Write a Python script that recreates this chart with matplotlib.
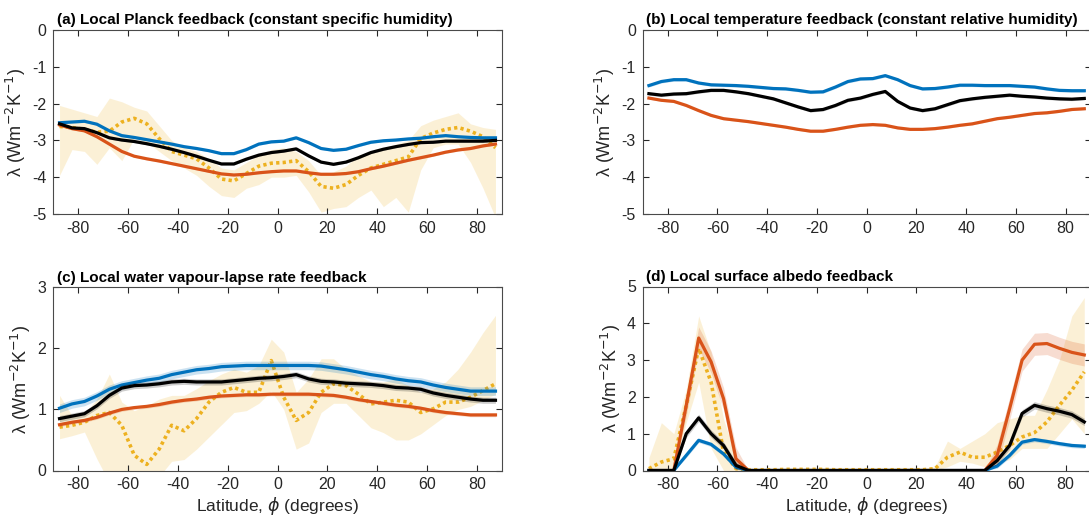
import numpy as np
import matplotlib
matplotlib.use("Agg")
import matplotlib.pyplot as plt

plt.rcParams['font.family'] = ['Liberation Sans', 'DejaVu Sans']
plt.rcParams['axes.unicode_minus'] = False

# ---------------- data ----------------
lat = [-87.5, -82.5, -77.5, -72.5, -67.5, -62.5, -57.5, -52.5, -47.5, -42.5,
       -37.5, -32.5, -27.5, -22.5, -17.5, -12.5, -7.5, -2.5, 2.5, 7.5,
       12.5, 17.5, 22.5, 27.5, 32.5, 37.5, 42.5, 47.5, 52.5, 57.5,
       62.5, 67.5, 72.5, 77.5, 82.5, 87.5]

# (a) Planck feedback
a_blue = [-2.52, -2.50, -2.48, -2.56, -2.74, -2.87, -2.92, -2.98, -3.04, -3.10,
          -3.17, -3.22, -3.28, -3.36, -3.36, -3.25, -3.10, -3.04, -3.02, -2.93,
          -3.06, -3.22, -3.27, -3.24, -3.14, -3.05, -3.01, -2.99, -2.96, -2.94,
          -2.90, -2.87, -2.90, -2.92, -2.93, -2.93]
a_black = [-2.55, -2.66, -2.68, -2.79, -2.93, -2.99, -3.03, -3.09, -3.16, -3.24,
           -3.33, -3.43, -3.54, -3.64, -3.64, -3.51, -3.40, -3.33, -3.29, -3.23,
           -3.42, -3.59, -3.65, -3.59, -3.47, -3.33, -3.24, -3.17, -3.11, -3.06,
           -3.05, -3.02, -3.02, -3.02, -3.02, -3.00]
a_red = [-2.58, -2.68, -2.74, -2.90, -3.10, -3.30, -3.43, -3.50, -3.56, -3.63,
         -3.70, -3.77, -3.84, -3.91, -3.94, -3.92, -3.88, -3.85, -3.83, -3.83,
         -3.88, -3.92, -3.92, -3.90, -3.85, -3.77, -3.70, -3.62, -3.54, -3.47,
         -3.40, -3.32, -3.26, -3.22, -3.15, -3.10]
a_obs = [-2.62, -2.65, -2.70, -2.78, -2.75, -2.50, -2.40, -2.55, -2.95, -3.30,
         -3.40, -3.50, -3.75, -4.05, -4.10, -3.90, -3.70, -3.62, -3.60, -3.55,
         -3.85, -4.25, -4.30, -4.20, -3.95, -3.75, -3.65, -3.55, -3.45, -2.95,
         -2.80, -2.70, -2.65, -2.75, -2.90, -3.20]
a_obs_hi = [-2.05, -2.15, -2.25, -2.35, -1.85, -1.95, -2.10, -2.20, -2.60, -3.00,
            -3.20, -3.30, -3.50, -3.75, -3.80, -3.60, -3.40, -3.25, -3.20, -3.30,
            -3.55, -3.95, -3.85, -3.70, -3.40, -3.30, -3.20, -3.10, -3.00, -2.60,
            -2.45, -2.35, -2.25, -2.55, -2.65, -2.70]
a_obs_lo = [-3.95, -3.25, -3.30, -3.65, -3.20, -3.55, -2.95, -3.05, -3.30, -3.55,
            -3.75, -3.95, -4.25, -4.50, -4.55, -4.30, -4.20, -4.00, -4.00, -3.95,
            -4.40, -4.95, -4.85, -4.80, -4.55, -4.35, -4.80, -4.55, -4.95, -3.80,
            -3.20, -3.10, -3.10, -3.60, -4.30, -5.10]

# (b) temperature feedback (constant RH)
b_blue = [-1.51, -1.40, -1.35, -1.35, -1.44, -1.49, -1.50, -1.51, -1.53, -1.56,
          -1.59, -1.60, -1.64, -1.69, -1.68, -1.55, -1.40, -1.33, -1.32, -1.24,
          -1.35, -1.51, -1.60, -1.59, -1.55, -1.50, -1.50, -1.51, -1.51, -1.51,
          -1.53, -1.55, -1.60, -1.64, -1.65, -1.65]
b_black = [-1.73, -1.77, -1.74, -1.73, -1.68, -1.64, -1.64, -1.68, -1.73, -1.80,
           -1.87, -1.98, -2.09, -2.19, -2.16, -2.05, -1.91, -1.85, -1.75, -1.67,
           -1.94, -2.12, -2.19, -2.14, -2.03, -1.92, -1.87, -1.83, -1.80, -1.77,
           -1.80, -1.82, -1.85, -1.87, -1.88, -1.86]
b_red = [-1.85, -1.91, -1.94, -2.05, -2.19, -2.32, -2.41, -2.45, -2.49, -2.54,
         -2.59, -2.64, -2.70, -2.75, -2.75, -2.70, -2.64, -2.59, -2.57, -2.59,
         -2.66, -2.70, -2.70, -2.68, -2.64, -2.59, -2.55, -2.48, -2.41, -2.37,
         -2.32, -2.27, -2.25, -2.21, -2.16, -2.14]

# (c) water vapour - lapse rate feedback
c_blue = [1.02, 1.09, 1.13, 1.22, 1.33, 1.40, 1.44, 1.48, 1.51, 1.57,
          1.61, 1.65, 1.67, 1.70, 1.71, 1.72, 1.72, 1.72, 1.72, 1.72,
          1.72, 1.71, 1.68, 1.65, 1.61, 1.57, 1.54, 1.50, 1.47, 1.45,
          1.40, 1.36, 1.33, 1.30, 1.30, 1.30]
c_black = [0.85, 0.89, 0.93, 1.06, 1.23, 1.35, 1.39, 1.40, 1.42, 1.45,
           1.46, 1.45, 1.45, 1.45, 1.47, 1.49, 1.51, 1.52, 1.54, 1.57,
           1.50, 1.46, 1.45, 1.43, 1.42, 1.41, 1.39, 1.36, 1.35, 1.33,
           1.27, 1.23, 1.20, 1.17, 1.15, 1.15]
c_red = [0.75, 0.79, 0.82, 0.87, 0.94, 1.00, 1.03, 1.05, 1.08, 1.12,
         1.15, 1.17, 1.20, 1.22, 1.23, 1.24, 1.24, 1.25, 1.25, 1.25,
         1.25, 1.24, 1.23, 1.20, 1.16, 1.13, 1.10, 1.07, 1.05, 1.02,
         0.98, 0.95, 0.93, 0.91, 0.91, 0.91]
c_obs = [0.71, 0.74, 0.79, 0.90, 0.95, 0.74, 0.25, 0.10, 0.35, 0.74,
         0.65, 0.85, 1.12, 1.28, 1.36, 1.28, 1.28, 1.80, 1.20, 0.82,
         0.95, 1.28, 1.42, 1.39, 1.25, 1.09, 1.12, 1.15, 1.12, 0.95,
         1.01, 1.12, 1.12, 1.20, 1.31, 1.42]
c_obs_hi = [1.23, 0.90, 0.93, 1.17, 1.58, 1.12, 0.98, 1.06, 1.17, 1.23,
            1.23, 1.34, 1.47, 1.58, 1.66, 1.61, 1.72, 2.15, 1.94, 1.28,
            1.50, 1.83, 1.83, 1.66, 1.55, 1.45, 1.45, 1.50, 1.39, 1.28,
            1.34, 1.45, 1.66, 1.94, 2.26, 2.54]
c_obs_lo = [0.52, 0.57, 0.63, 0.19, -0.20, -0.30, -0.30, -0.20, -0.10, 0.15,
            0.18, 0.35, 0.55, 0.75, 0.95, 0.98, 1.10, 1.30, 1.00, 0.35,
            0.45, 0.95, 1.10, 1.10, 0.90, 0.70, 0.62, 0.50, 0.50, 0.60,
            0.75, 0.90, 1.00, 1.05, 1.15, 1.25]

# (d) surface albedo feedback
d_blue = [0.00, 0.00, 0.00, 0.41, 0.82, 0.71, 0.45, 0.09, 0.00, 0.00,
          0.00, 0.00, 0.00, 0.00, 0.00, 0.00, 0.00, 0.00, 0.00, 0.00,
          0.00, 0.00, 0.00, 0.00, 0.00, 0.00, 0.00, 0.00, 0.12, 0.41,
          0.77, 0.84, 0.79, 0.73, 0.68, 0.66]
d_black = [0.00, 0.00, 0.00, 1.00, 1.43, 1.00, 0.68, 0.14, 0.00, 0.00,
           0.00, 0.00, 0.00, 0.00, 0.00, 0.00, 0.00, 0.00, 0.00, 0.00,
           0.00, 0.00, 0.00, 0.00, 0.00, 0.00, 0.00, 0.00, 0.27, 0.68,
           1.55, 1.77, 1.68, 1.61, 1.52, 1.32]
d_red = [0.00, 0.00, 0.00, 1.77, 3.60, 2.95, 1.95, 0.32, 0.00, 0.00,
         0.00, 0.00, 0.00, 0.00, 0.00, 0.00, 0.00, 0.00, 0.00, 0.00,
         0.00, 0.00, 0.00, 0.00, 0.00, 0.00, 0.00, 0.00, 0.41, 1.68,
         3.00, 3.43, 3.45, 3.32, 3.21, 3.14]
d_obs = [0.05, 0.23, 0.32, 1.77, 3.32, 2.40, 0.50, 0.05, 0.02, 0.02,
         0.02, 0.03, 0.03, 0.03, 0.03, 0.02, 0.02, 0.02, 0.02, 0.02,
         0.02, 0.02, 0.02, 0.05, 0.36, 0.50, 0.36, 0.36, 0.50, 0.68,
         0.91, 1.03, 1.32, 1.77, 2.18, 2.68]
d_obs_hi = [0.35, 1.30, 1.00, 2.20, 4.20, 3.20, 1.40, 0.35, 0.06, 0.06,
            0.06, 0.07, 0.07, 0.08, 0.08, 0.07, 0.07, 0.07, 0.07, 0.07,
            0.08, 0.08, 0.07, 0.10, 0.80, 0.60, 0.80, 1.00, 1.30, 1.40,
            1.50, 1.50, 2.20, 3.00, 4.20, 4.70]
d_obs_lo = [0.00, 0.00, 0.00, 1.30, 2.40, 0.60, 0.00, 0.00, 0.00, 0.00,
            0.00, 0.00, 0.00, 0.00, 0.00, 0.00, 0.00, 0.00, 0.00, 0.00,
            0.00, 0.00, 0.00, 0.00, 0.10, 0.25, 0.20, 0.10, 0.20, 0.30,
            0.60, 0.60, 0.60, 1.00, 1.40, 1.00]

titles = ["(a) Local Planck feedback (constant specific humidity)",
          "(b) Local temperature feedback (constant relative humidity)",
          "(c) Local water vapour-lapse rate feedback",
          "(d) Local surface albedo feedback"]
ylims = [(-5, 0), (-5, 0), (0, 3), (0, 5)]
xticks = [-80, -60, -40, -20, 0, 20, 40, 60, 80]

# spreads (half-width of model shading)
spread = {
    'a': (0.03, 0.03, 0.03),
    'b': (0.04, 0.04, 0.03),
    'c': (0.07, 0.05, 0.03),
    'd': (0.06, 0.10, 0.30),
}

BLUE = '#0072BD'
RED = '#D95319'
YEL = '#EDB120'
TXT = '#262626'

W, H = 1089, 519
fig = plt.figure(figsize=(W / 100, H / 100), dpi=100)

def rect(x0, y0, x1, y1):
    return [x0 / W, 1 - y1 / H, (x1 - x0) / W, (y1 - y0) / H]

rects = [rect(53.3, 30, 501.7, 214), rect(642.7, 30, 1090.5, 214),
         rect(53.3, 287.3, 501.7, 470.5), rect(642.7, 286.5, 1090.5, 470.5)]

panels = [
    ('a', a_blue, a_black, a_red, a_obs, a_obs_hi, a_obs_lo),
    ('b', b_blue, b_black, b_red, None, None, None),
    ('c', c_blue, c_black, c_red, c_obs, c_obs_hi, c_obs_lo),
    ('d', d_blue, d_black, d_red, d_obs, d_obs_hi, d_obs_lo),
]

x = np.array(lat)
for i, (key, blue, black, red, obs, hi, lo) in enumerate(panels):
    ax = fig.add_axes(rects[i])
    sb, sk, sr = spread[key]
    clip0 = (key == 'd')
    if obs is not None:
        ax.fill_between(x, lo, hi, color=YEL, alpha=0.18, lw=0, zorder=1)
        ax.plot(x, obs, color=YEL, lw=2.6, linestyle=(0, (0.9, 0.9)), zorder=2)
    for vals, col, s, z in [(red, RED, sr, 3), (blue, BLUE, sb, 4), (black, 'black', sk, 5)]:
        v = np.array(vals)
        lo_b = v - s
        hi_b = v + s
        if clip0:
            lo_b = np.maximum(lo_b, 0)
            hi_b = np.where(v > 0, hi_b, 0)
        ax.fill_between(x, lo_b, hi_b, color=col, alpha=0.2, lw=0, zorder=z)
        ax.plot(x, v, color=col, lw=2.3, zorder=z + 0.5, solid_joinstyle='round')
    ax.set_xlim(-90, 90)
    ax.set_ylim(*ylims[i])
    ax.set_xticks(xticks)
    ax.set_yticks(np.arange(ylims[i][0], ylims[i][1] + 1, 1))
    ax.tick_params(direction='in', top=True, right=True, length=4, width=0.8,
                   colors=TXT, labelsize=11.5, pad=5)
    for sp in ax.spines.values():
        sp.set_color('#4a4a4a')
        sp.set_linewidth(0.8)
    ax.set_ylabel('λ (Wm$^{-2}$K$^{-1}$)', fontsize=13, color=TXT, labelpad=3)
    if i >= 2:
        ax.set_xlabel('Latitude, $\\phi$ (degrees)', fontsize=12.5, color=TXT, labelpad=2)
    ax.set_title(titles[i], fontsize=11, fontweight='bold', loc='left', x=0.008, pad=4)

fig.savefig('out.png', dpi=100)
